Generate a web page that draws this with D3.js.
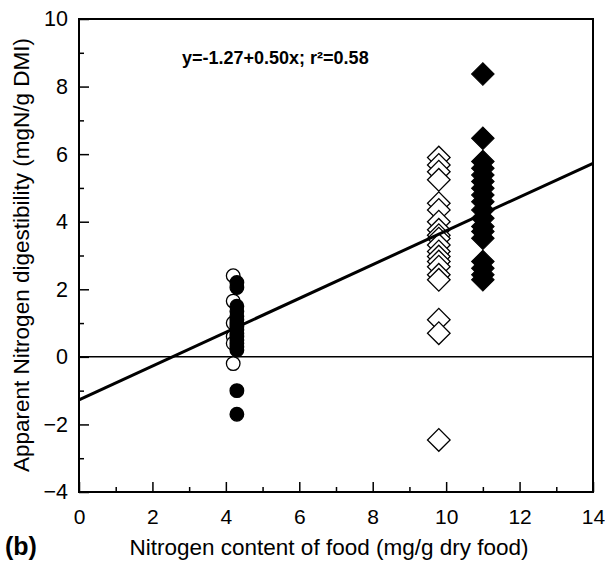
<!DOCTYPE html>
<html>
<head>
<meta charset="utf-8">
<script src="https://cdn.jsdelivr.net/npm/d3@7"></script>
<style>
  html, body { margin: 0; padding: 0; background: #fff; }
  svg { display: block; font-family: "Liberation Sans", Arial, sans-serif; }
</style>
</head>
<body>
<svg id="chart" width="605" height="561"></svg>
<script>
// Nitrogen content of each food (mg/g dry food)
const foodN = { openCircle: 4.2, filledCircle: 4.3, openDiamond: 9.8, filledDiamond: 11.0 };

// Apparent N digestibility (mgN/g DMI) per food group
const openCircleValues = [2.4, 1.65, 1.0, 0.6, 0.4, -0.2];
const filledCircleValues = [2.2, 2.05, 1.5, 1.35, 1.2, 1.1, 1.0, 0.9, 0.8, 0.7, 0.6, 0.5, 0.4, 0.3, 0.2, -1.0, -1.7];
const openDiamondValues = [5.9, 5.68, 5.48, 5.24, 4.55, 4.35, 4.0, 3.76, 3.6, 3.5, 3.31, 3.12, 2.97, 2.82, 2.67, 2.43, 2.28, 1.1, 0.7, -2.46];
const filledDiamondValues = [8.37, 6.47, 5.78, 5.58, 5.38, 5.19, 4.99, 4.79, 4.59, 4.35, 4.1, 3.86, 3.71, 3.51, 2.82, 2.62, 2.43, 2.28];

// Regression fit
const intercept = -1.27, slope = 0.50;
const equationLabel = "y=-1.27+0.50x; r\u00B2=0.58";

const xTicks = [0, 2, 4, 6, 8, 10, 12, 14];
const xMinor = [1, 3, 5, 7, 9, 11, 13];
const yTicks = [-4, -2, 0, 2, 4, 6, 8, 10];
const yMinor = [-3, -1, 1, 3, 5, 7, 9];

const svg = d3.select("#chart");
const plotLeft = 79, plotRight = 593, plotTop = 19, plotBottom = 492;

const x = d3.scaleLinear().domain([0, 14]).range([plotLeft, plotRight]);
const y = d3.scaleLinear().domain([-4, 10]).range([plotBottom, plotTop]);

// axes with inward ticks
const gx = svg.append("g").attr("transform", `translate(0,${plotBottom})`);
gx.call(d3.axisBottom(x).tickValues(xMinor).tickSize(-5).tickFormat(""));
gx.select(".domain").remove();
const gx2 = svg.append("g").attr("transform", `translate(0,${plotBottom})`);
gx2.call(d3.axisBottom(x).tickValues(xTicks).tickSize(-10).tickPadding(17).tickFormat(d3.format("d")));
gx2.select(".domain").remove();
gx2.selectAll("text").attr("font-size", 21).attr("fill", "#000");

const gy = svg.append("g").attr("transform", `translate(${plotLeft},0)`);
gy.call(d3.axisLeft(y).tickValues(yMinor).tickSize(-5).tickFormat(""));
gy.select(".domain").remove();
const gy2 = svg.append("g").attr("transform", `translate(${plotLeft},0)`);
gy2.call(d3.axisLeft(y).tickValues(yTicks).tickSize(-10).tickPadding(11).tickFormat(d3.format("d")));
gy2.select(".domain").remove();
gy2.selectAll("text").attr("font-size", 21.5).attr("fill", "#000");

svg.selectAll(".tick line").attr("stroke", "#000").attr("stroke-width", 1.5);

// frame
svg.append("rect")
  .attr("x", plotLeft).attr("y", plotTop)
  .attr("width", plotRight - plotLeft).attr("height", plotBottom - plotTop)
  .attr("fill", "none").attr("stroke", "#000").attr("stroke-width", 2);

// zero line
svg.append("line")
  .attr("x1", x(0)).attr("x2", x(14))
  .attr("y1", y(0)).attr("y2", y(0))
  .attr("stroke", "#000").attr("stroke-width", 1.5);

// markers
const diamond = d3.symbol().type(d3.symbolSquare).size(255);

function diamonds(values, xv, filled) {
  svg.append("g").selectAll("path").data(values).join("path")
    .attr("d", diamond)
    .attr("transform", d => `translate(${x(xv)},${y(d)}) rotate(45)`)
    .attr("fill", filled ? "#000" : "#fff")
    .attr("stroke", "#000")
    .attr("stroke-width", filled ? 1 : 1.3);
}
function circles(values, xv, filled) {
  svg.append("g").selectAll("circle").data(values).join("circle")
    .attr("cx", x(xv)).attr("cy", d => y(d)).attr("r", 6.8)
    .attr("fill", filled ? "#000" : "#fff")
    .attr("stroke", "#000")
    .attr("stroke-width", 1.3);
}

circles(openCircleValues, foodN.openCircle, false);
circles(filledCircleValues, foodN.filledCircle, true);
diamonds(openDiamondValues, foodN.openDiamond, false);
diamonds(filledDiamondValues, foodN.filledDiamond, true);

// regression line
svg.append("line")
  .attr("x1", x(0)).attr("y1", y(intercept))
  .attr("x2", x(14)).attr("y2", y(intercept + slope * 14))
  .attr("stroke", "#000").attr("stroke-width", 3);

// equation
svg.append("text")
  .attr("x", 182).attr("y", 64)
  .attr("font-size", 18).attr("font-weight", "bold")
  .text(equationLabel);

// axis titles
svg.append("text")
  .attr("x", 329).attr("y", 555)
  .attr("text-anchor", "middle").attr("font-size", 22.5)
  .text("Nitrogen content of food (mg/g dry food)");

svg.append("text")
  .attr("transform", `translate(29,255) rotate(-90)`)
  .attr("text-anchor", "middle").attr("font-size", 22.5)
  .text("Apparent Nitrogen digestibility (mgN/g DMI)");

svg.append("text")
  .attr("x", 5).attr("y", 555)
  .attr("font-size", 25).attr("font-weight", "bold")
  .text("(b)");
</script>
</body>
</html>
